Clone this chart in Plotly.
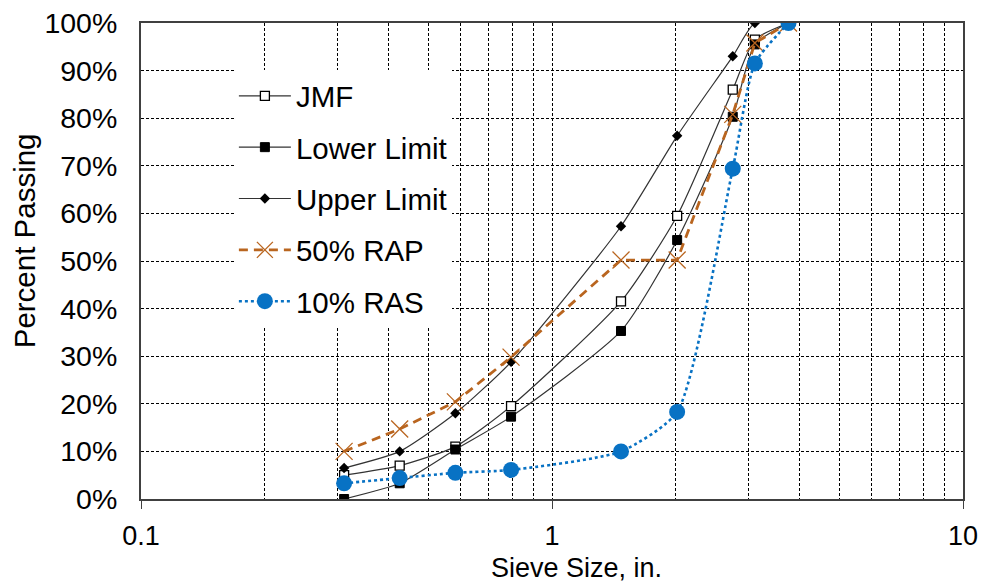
import plotly.graph_objects as go

# Sieve sizes (plotted positions, in.)
sieve = [0.312, 0.426, 0.582, 0.795, 1.472, 2.016, 2.753, 3.116, 3.762]

jmf = [5, 7, 11, 19.5, 41.5, 59.5, 86, 96.5, 100]
lower = [0, 3.3, 10.4, 17.3, 35.3, 54.4, 80.3, 95.5, 100]
upper = [6.5, 10, 18, 28.8, 57.3, 76.3, 93, 100, 100]
rap50 = [10, 14.7, 20.4, 29.8, 50.2, 50.2, 80.8, 95.8, 100]
ras10 = [3.3, 4.4, 5.5, 6.1, 10, 18.3, 69.4, 91.5, 100]

names = ["JMF", "Lower Limit", "Upper Limit", "50% RAP", "10% RAS"]
y_ticks = [0, 10, 20, 30, 40, 50, 60, 70, 80, 90, 100]
x_ticks = [0.1, 1, 10]

FONT = "Liberation Sans, Arial, sans-serif"
BROWN = "#B9651F"
BLUE = "#0872C4"
LINE = "#333333"

fig = go.Figure()
fig.add_trace(go.Scatter(
    x=sieve, y=jmf, name=names[0], mode="lines+markers", legendgroup="a",
    line=dict(color=LINE, width=1.2, shape="spline", smoothing=0.6),
    marker=dict(symbol="square", size=9, color="white", line=dict(color="black", width=1.3))))
fig.add_trace(go.Scatter(
    x=sieve, y=lower, name=names[1], mode="lines+markers", legendgroup="b",
    line=dict(color=LINE, width=1.2, shape="spline", smoothing=0.6),
    marker=dict(symbol="square", size=9, color="black", line=dict(color="black", width=1))))
fig.add_trace(go.Scatter(
    x=sieve, y=upper, name=names[2], mode="lines+markers", legendgroup="c",
    line=dict(color=LINE, width=1.2, shape="spline", smoothing=0.6),
    marker=dict(symbol="diamond", size=8, color="black")))
fig.add_trace(go.Scatter(
    x=sieve, y=rap50, name=names[3], mode="lines+markers", legendgroup="d",
    line=dict(color=BROWN, width=2.8, dash="9px,6px"),
    marker=dict(symbol="x-thin-open", size=17, color=BROWN, line=dict(color=BROWN, width=1.3))))
fig.add_trace(go.Scatter(
    x=sieve, y=ras10, name=names[4], mode="lines+markers", legendgroup="e",
    line=dict(color=BLUE, width=2.6, dash="dot", shape="spline", smoothing=0.6),
    marker=dict(symbol="circle", size=16, color=BLUE)))

grid = dict(gridcolor="black", gridwidth=1, griddash="3px,2px")

fig.update_xaxes(
    type="log", range=[-1, 1], tickvals=x_ticks, ticktext=[str(v) for v in x_ticks],
    showline=True, linecolor="#404040", linewidth=2, mirror=True,
    ticks="outside", ticklen=8, tickcolor="#404040",
    showgrid=True, **grid,
    minor=dict(dtick="D1", showgrid=True, gridcolor="black", gridwidth=1, griddash="3px,2px",
               ticks=""),
    tickfont=dict(family=FONT, size=27, color="black"),
    ticklabelstandoff=4, zeroline=False, automargin=False,
)
fig.update_yaxes(
    range=[0, 100], tickvals=y_ticks, ticktext=[f"{v}%" for v in y_ticks],
    showline=True, linecolor="#404040", linewidth=2, mirror=True,
    ticks="", showgrid=True, **grid,
    tickfont=dict(family=FONT, size=28.5, color="black"),
    ticklabelstandoff=16, zeroline=False, automargin=False,
)

fig.update_layout(
    width=983, height=584,
    margin=dict(l=141, r=20, t=23, b=85, autoexpand=False),
    paper_bgcolor="white", plot_bgcolor="white",
    font=dict(family=FONT, size=28, color="black"),
    showlegend=True,
    legend=dict(
        x=0.113, y=0.901, xanchor="left", yanchor="top",
        bgcolor="white", borderwidth=0,
        font=dict(family=FONT, size=29.5, color="black"),
        traceorder="grouped", tracegroupgap=10, itemwidth=52,
    ),
    annotations=[
        dict(text="Sieve Size, in.", x=0.530, y=-0.146, xref="paper", yref="paper",
             showarrow=False, font=dict(family=FONT, size=27, color="black"),
             xanchor="center", yanchor="middle"),
        dict(text="Percent Passing", x=-0.142, y=0.542, xref="paper", yref="paper",
             showarrow=False, textangle=-90, font=dict(family=FONT, size=29.5, color="black"),
             xanchor="center", yanchor="middle"),
    ],
)

fig.write_html("out.html")
